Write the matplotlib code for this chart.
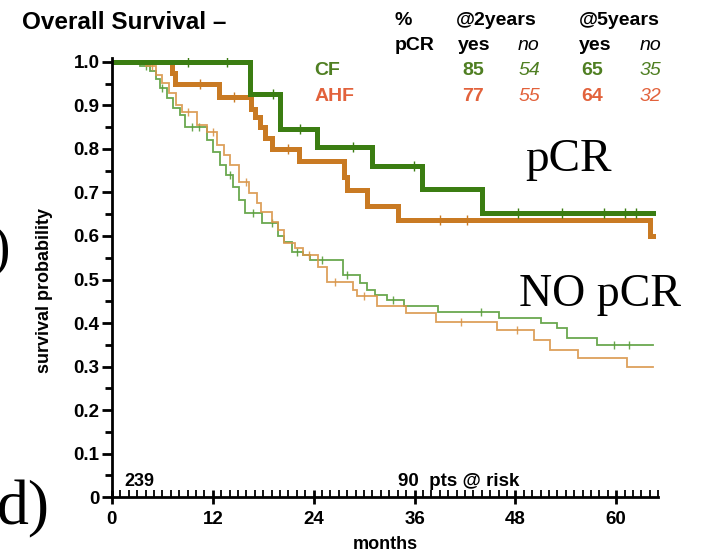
import numpy as np
import matplotlib.pyplot as plt
from matplotlib.ticker import MultipleLocator, FuncFormatter

# step points (month of drop, survival after drop)
cf_pcr_t = [0, 16.4, 20.0, 24.4, 30.9, 36.9, 44.0]
cf_pcr_s = [1.0, 0.927, 0.846, 0.804, 0.760, 0.707, 0.652]
cf_pcr_cens = [9.1, 13.7, 19.2, 22.4, 28.7, 35.9, 48.3, 53.5, 58.5, 61.0, 62.3]

ahf_pcr_t = [0, 7.1, 7.5, 12.7, 16.6, 17.0, 17.6, 18.2, 19.0, 22.2, 27.6, 28.0, 30.3, 34.0, 64.0]
ahf_pcr_s = [1.0, 0.975, 0.95, 0.919, 0.892, 0.873, 0.85, 0.825, 0.80, 0.772, 0.735, 0.705, 0.669, 0.636, 0.600]
ahf_pcr_cens = [10.5, 14.5, 21.0, 39.0, 42.2]

cf_no_t = [0, 3.3, 4.5, 5.3, 5.7, 6.6, 7.3, 8.1, 8.7, 11.3, 12.0, 12.9, 13.6, 14.4, 15.1, 15.8,
           17.9, 19.8, 20.5, 21.4, 22.7, 23.6, 27.5, 29.5, 30.3, 31.3, 32.7, 34.7, 38.8, 46.0,
           51.0, 52.9, 54.1, 57.7]
cf_no_s = [1.0, 0.99, 0.98, 0.96, 0.94, 0.917, 0.894, 0.878, 0.851, 0.821, 0.794, 0.763, 0.74,
           0.713, 0.683, 0.652, 0.63, 0.60, 0.587, 0.564, 0.556, 0.545, 0.51, 0.492, 0.477, 0.464,
           0.452, 0.44, 0.426, 0.411, 0.399, 0.388, 0.365, 0.349]
cf_no_cens = [4.0, 6.0, 9.5, 10.3, 14.0, 16.8, 19.0, 22.0, 25.0, 28.0, 33.5, 43.9, 59.7, 61.5]

ahf_no_t = [0, 4.1, 5.3, 6.0, 6.8, 7.6, 8.3, 10.1, 11.3, 12.5, 13.3, 14.1, 15.1, 16.3, 17.3,
            17.7, 19.1, 19.8, 20.5, 21.8, 22.7, 24.5, 25.6, 28.7, 29.1, 31.5, 35.0, 38.5, 45.8,
            50.2, 52.1, 55.5, 61.3]
ahf_no_s = [1.0, 0.99, 0.97, 0.951, 0.928, 0.901, 0.886, 0.855, 0.84, 0.809, 0.786, 0.763, 0.725,
            0.698, 0.675, 0.656, 0.633, 0.614, 0.583, 0.572, 0.556, 0.529, 0.495, 0.477, 0.462,
            0.44, 0.422, 0.403, 0.384, 0.361, 0.338, 0.319, 0.30]
ahf_no_cens = [4.8, 9.0, 12.0, 16.0, 23.5, 26.5, 30.0, 41.5, 48.2]

end_month = 64.4

groups = ["CF", "AHF"]
pct_2y_yes = [85, 77]
pct_2y_no = [54, 55]
pct_5y_yes = [65, 64]
pct_5y_no = [35, 32]

GREEN = "#3b7d12"
GREEN_L = "#5a9e3c"
ORANGE = "#c97a23"
ORANGE_L = "#d9964a"
TXT_G = "#4f7f22"
TXT_O = "#e2623c"

plt.rcParams['font.family'] = ['Liberation Sans', 'DejaVu Sans']


def km(ax, t, s, cens, color, lw, alpha, ms):
    xs = list(t) + [end_month]
    ys = list(s) + [s[-1]]
    ax.step(xs, ys, where='post', color=color, lw=lw, alpha=alpha, solid_joinstyle='miter')
    idx = np.searchsorted(t, cens, side='right') - 1
    ax.plot(cens, np.array(s)[idx], ls='none', marker='|', ms=ms,
            mew=1.0, color=color, alpha=alpha)


fig = plt.figure(figsize=(7.04, 5.52), dpi=100)
ax = fig.add_axes([0.159, 0.0996, 0.776, 0.796])

km(ax, cf_no_t, cf_no_s, cf_no_cens, GREEN_L, 1.3, 0.9, 6)
km(ax, ahf_no_t, ahf_no_s, ahf_no_cens, ORANGE_L, 1.3, 0.9, 6)
km(ax, ahf_pcr_t, ahf_pcr_s, ahf_pcr_cens, ORANGE, 3.6, 1.0, 7)
km(ax, cf_pcr_t, cf_pcr_s, cf_pcr_cens, GREEN, 3.6, 1.0, 7)

ax.set_xlim(0, 65)
ax.set_ylim(0, 1.01)
for side in ['top', 'right']:
    ax.spines[side].set_visible(False)
for side in ['left', 'bottom']:
    ax.spines[side].set_linewidth(2)

ax.xaxis.set_major_locator(MultipleLocator(12))
ax.xaxis.set_minor_locator(MultipleLocator(1))
ax.yaxis.set_major_locator(MultipleLocator(0.1))
ax.yaxis.set_minor_locator(MultipleLocator(0.05))
ax.yaxis.set_major_formatter(FuncFormatter(lambda v, p: "0" if v == 0 else f"{v:.1f}"))
ax.tick_params(axis='x', which='major', direction='inout', length=10, width=2, labelsize=13.5, pad=5)
ax.tick_params(axis='x', which='minor', direction='in', length=5, width=1.3)
ax.tick_params(axis='y', which='major', direction='out', length=7, width=2, labelsize=13.5, pad=2)
ax.tick_params(axis='y', which='minor', direction='out', length=5, width=2)
for lab in ax.get_xticklabels() + ax.get_yticklabels():
    lab.set_fontweight('bold')

ax.set_xlabel("months", fontsize=13, fontweight='bold', labelpad=6)
ax.set_ylabel("survival probability", fontsize=13, fontweight='bold')
ax.yaxis.set_label_coords(-0.108, 0.47)

ax.text(1.5, 0.025, "239", fontsize=13, fontweight='bold')
ax.text(34.0, 0.025, "90  pts @ risk", fontsize=13.5, fontweight='bold')

fig.text(0.031, 0.948, "Overall Survival \u2013", fontsize=17.5, fontweight='bold')

# table at the top right
cols = [0.561, 0.647, 0.736, 0.822, 0.908]
hdr_y1, hdr_y2, row1_y, row2_y = 0.963, 0.918, 0.873, 0.826
fs = 14
fig.text(cols[0], hdr_y1, "%", fontsize=fs, fontweight='bold', va='center')
fig.text(cols[1], hdr_y1, "@2years", fontsize=fs, fontweight='bold', va='center')
fig.text(cols[3], hdr_y1, "@5years", fontsize=fs, fontweight='bold', va='center')
fig.text(cols[0], hdr_y2, "pCR", fontsize=fs, fontweight='bold', va='center')
for c, lab, st in [(cols[1] + 0.004, "yes", 'normal'), (cols[2], "no", 'italic'),
                   (cols[3], "yes", 'normal'), (cols[4], "no", 'italic')]:
    fig.text(c, hdr_y2, lab, fontsize=fs, fontweight='bold' if st == 'normal' else 'normal',
             style=st, va='center')

for i, (g, col, y) in enumerate([(groups[0], TXT_G, row1_y), (groups[1], TXT_O, row2_y)]):
    fig.text(0.447, y, g, fontsize=fs, fontweight='bold', color=col, va='center')
    fig.text(cols[1] + 0.010, y, str(pct_2y_yes[i]), fontsize=fs, fontweight='bold', color=col, va='center')
    fig.text(cols[2], y, str(pct_2y_no[i]), fontsize=fs, style='italic', color=col, va='center')
    fig.text(cols[3] + 0.003, y, str(pct_5y_yes[i]), fontsize=fs, fontweight='bold', color=col, va='center')
    fig.text(cols[4], y, str(pct_5y_no[i]), fontsize=fs, style='italic', color=col, va='center')

serif = ['Liberation Serif', 'DejaVu Serif']
fig.text(0.746, 0.69, "pCR", fontsize=34, family=serif)
fig.text(0.737, 0.445, "NO pCR", fontsize=33, family=serif)
fig.text(-0.012, 0.52, ")", fontsize=40, family=serif)
fig.text(-0.005, 0.05, "d)", fontsize=46, family=serif)

fig.savefig("out.png", dpi=100)
